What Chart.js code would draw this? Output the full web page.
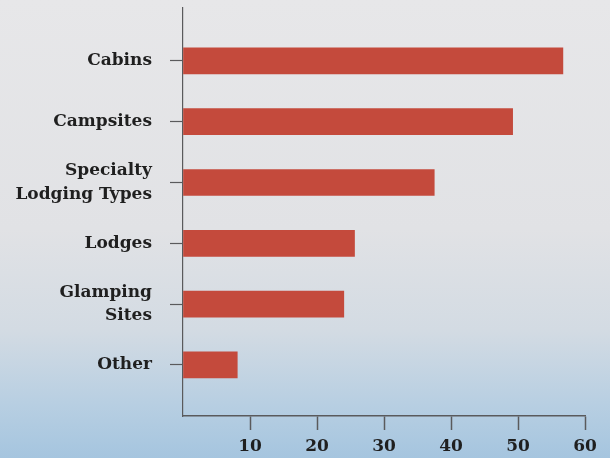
<!DOCTYPE html>
<html>
<head>
<meta charset="utf-8">
<script src="https://cdn.jsdelivr.net/npm/chart.js@4/dist/chart.umd.min.js"></script>
<style>
  html, body { margin: 0; padding: 0; }
  body {
    width: 610px; height: 458px; overflow: hidden;
    background: linear-gradient(to bottom, #e7e7e9 0%, #e1e2e5 50%, #d3dbe3 72%, #b8cfe2 88%, #a5c5df 100%);
  }
  #wrap { position: relative; width: 610px; height: 458px; }
</style>
</head>
<body>
<div id="wrap"><canvas id="chart"></canvas></div>
<script>
// lodging types, top to bottom
const categories = [['Cabins'], ['Campsites'], ['Specialty', 'Lodging Types'], ['Lodges'], ['Glamping', 'Sites'], ['Other']];
const values = [56.7, 49.2, 37.5, 25.6, 24.0, 8.1];
const xTicks = [10, 20, 30, 40, 50, 60];

const axisColor = '#5a5a5c';
const serif = 'DejaVu Serif';

const points = values.map((v, i) => ({ x: v, y: i }));

new Chart(document.getElementById('chart').getContext('2d'), {
    type: 'bar',
    data: {
        datasets: [{
            data: points,
            backgroundColor: '#c44a3c',
            borderWidth: 0,
            barThickness: 26
        }]
    },
    options: {
        indexAxis: 'y',
        responsive: true,
        maintainAspectRatio: false,
        animation: false,
        layout: { padding: { top: 8, right: 25, left: 0, bottom: 0 } },
        plugins: { legend: { display: false }, tooltip: { enabled: false } },
        scales: {
            x: {
                type: 'linear',
                min: 0,
                max: 60,
                offset: false,
                afterFit: s => { s.height = 42; },
                border: { color: axisColor, width: 1.5 },
                grid: {
                    offset: false,
                    drawOnChartArea: false,
                    tickLength: 14,
                    tickWidth: 1.5,
                    tickColor: ctx => (ctx.tick && xTicks.includes(ctx.tick.value)) ? axisColor : 'rgba(0,0,0,0)'
                },
                ticks: {
                    stepSize: 10,
                    padding: 6,
                    color: '#1f1f1f',
                    font: { family: serif, weight: 'bold', size: 17 },
                    callback: v => xTicks.includes(v) ? String(v) : ''
                }
            },
            y: {
                type: 'linear',
                reverse: true,
                min: -0.87,
                max: 5.84,
                offset: false,
                afterFit: s => { s.width = 183; s.paddingTop = 0; s.paddingBottom = 0; },
                border: { color: axisColor, width: 1.2 },
                grid: {
                    offset: false,
                    drawOnChartArea: false,
                    tickLength: 13,
                    tickWidth: 1.2,
                    tickColor: axisColor
                },
                ticks: {
                    stepSize: 1,
                    includeBounds: false,
                    padding: 18,
                    color: '#1f1f1f',
                    font: { family: serif, weight: 'bold', size: 17, lineHeight: 1.4 },
                    callback: v => categories[v] || ''
                }
            }
        }
    }
});
</script>
</body>
</html>
